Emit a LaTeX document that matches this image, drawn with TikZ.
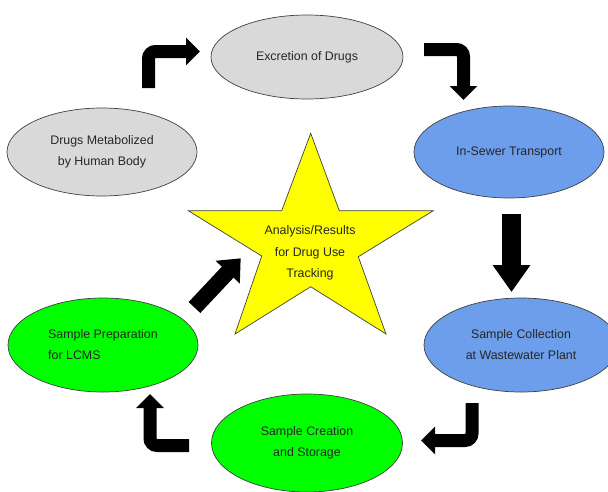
\documentclass[tikz,border=0pt]{standalone}
\usepackage{fontspec}
\setmainfont{Liberation Sans}
\usetikzlibrary{positioning,arrows.meta,shapes.geometric}
\definecolor{cyclegray}{HTML}{D9D9D9}
\definecolor{cycleblue}{HTML}{6D9EEB}
\definecolor{cyclegreen}{HTML}{00FF00}
\definecolor{staryellow}{HTML}{FFFF00}
\tikzset{
  phase/.style      = {ellipse, draw=black!75, line width=0.7pt, align=center,
                       font=\fontsize{12.4}{21}\selectfont, text=black!85,
                       inner sep=0pt},
  body/.style       = {phase, fill=cyclegray},
  sewer/.style      = {phase, fill=cycleblue},
  lab/.style        = {phase, fill=cyclegreen},
  starfill/.style   = {draw=black!75, line width=0.7pt, fill=staryellow,
                       line join=miter},
  startext/.style   = {align=center, font=\fontsize{12.4}{21.7}\selectfont,
                       text=black!85, inner sep=0pt},
  bent/.style       = {line width=13pt, rounded corners=7pt,
                       -{Triangle[width=27pt,length=14pt]}},
  block/.style      = {line width=19pt, -{Triangle[width=36pt,length=27pt]}},
  diag/.style       = {line width=16pt, -{Triangle[width=32pt,length=19pt]}}
}

\begin{document}
\begin{tikzpicture}[x=1pt, y=-1pt]

  \useasboundingbox (0,0) rectangle (608,491);

  % The six stages of the cycle.
  \node[body,  minimum width=192pt, minimum height=84pt] (excr)    at (307,57)  {Excretion of Drugs};
  \node[sewer, minimum width=190pt, minimum height=92pt] (transp)  at (509,152) {In-Sewer Transport};
  \node[sewer, minimum width=194pt, minimum height=94pt] (collect) at (521,345) {Sample Collection\\at Wastewater Plant};
  \node[lab,   minimum width=191pt, minimum height=98pt] (create)  at (307,443) {Sample Creation\\and Storage};
  \node[lab,   minimum width=190pt, minimum height=94pt, align=left] (prep) at (103,345) {Sample Preparation\\for LCMS};
  \node[body,  minimum width=190pt, minimum height=88pt] (metab)   at (102,152) {Drugs Metabolized\\by Human Body};

  % Star in the middle, stretched sideways.
  \draw[starfill] (310.7,133.3) -- (339.3,210.7) -- (433.3,210.7) -- (358.3,256.7)
    -- (386,334) -- (310.7,286.7) -- (235,334) -- (261.7,256)
    -- (188.3,210.7) -- (281.7,210.7) -- cycle;
  \node[startext] (track) at (310,253) {Analysis/Results\\for Drug Use\\Tracking};

  % Ends of the block arrows.
  \coordinate (a1s) at (148.5,88);   \coordinate (a1e) at (200,51.5);
  \coordinate (a2s) at (424,49.5);   \coordinate (a2e) at (463.5,100);
  \coordinate (a3s) at (511.5,214);  \coordinate (a3e) at (511.5,292);
  \coordinate (a4s) at (472,403);    \coordinate (a4e) at (421,440.5);
  \coordinate (a5s) at (189,445.5);  \coordinate (a5e) at (150,394);
  \coordinate (a6s) at (194.5,307.5); \coordinate (a6e) at (240.7,258.3);

  % Arrows round the cycle.
  \draw[bent]  (a1s) |- (a1e);
  \draw[bent]  (a2s) -| (a2e);
  \draw[block] (a3s) -- (a3e);
  \draw[bent]  (a4s) |- (a4e);
  \draw[bent]  (a5s) -| (a5e);
  \draw[diag]  (a6s) -- (a6e);

\end{tikzpicture}
\end{document}
